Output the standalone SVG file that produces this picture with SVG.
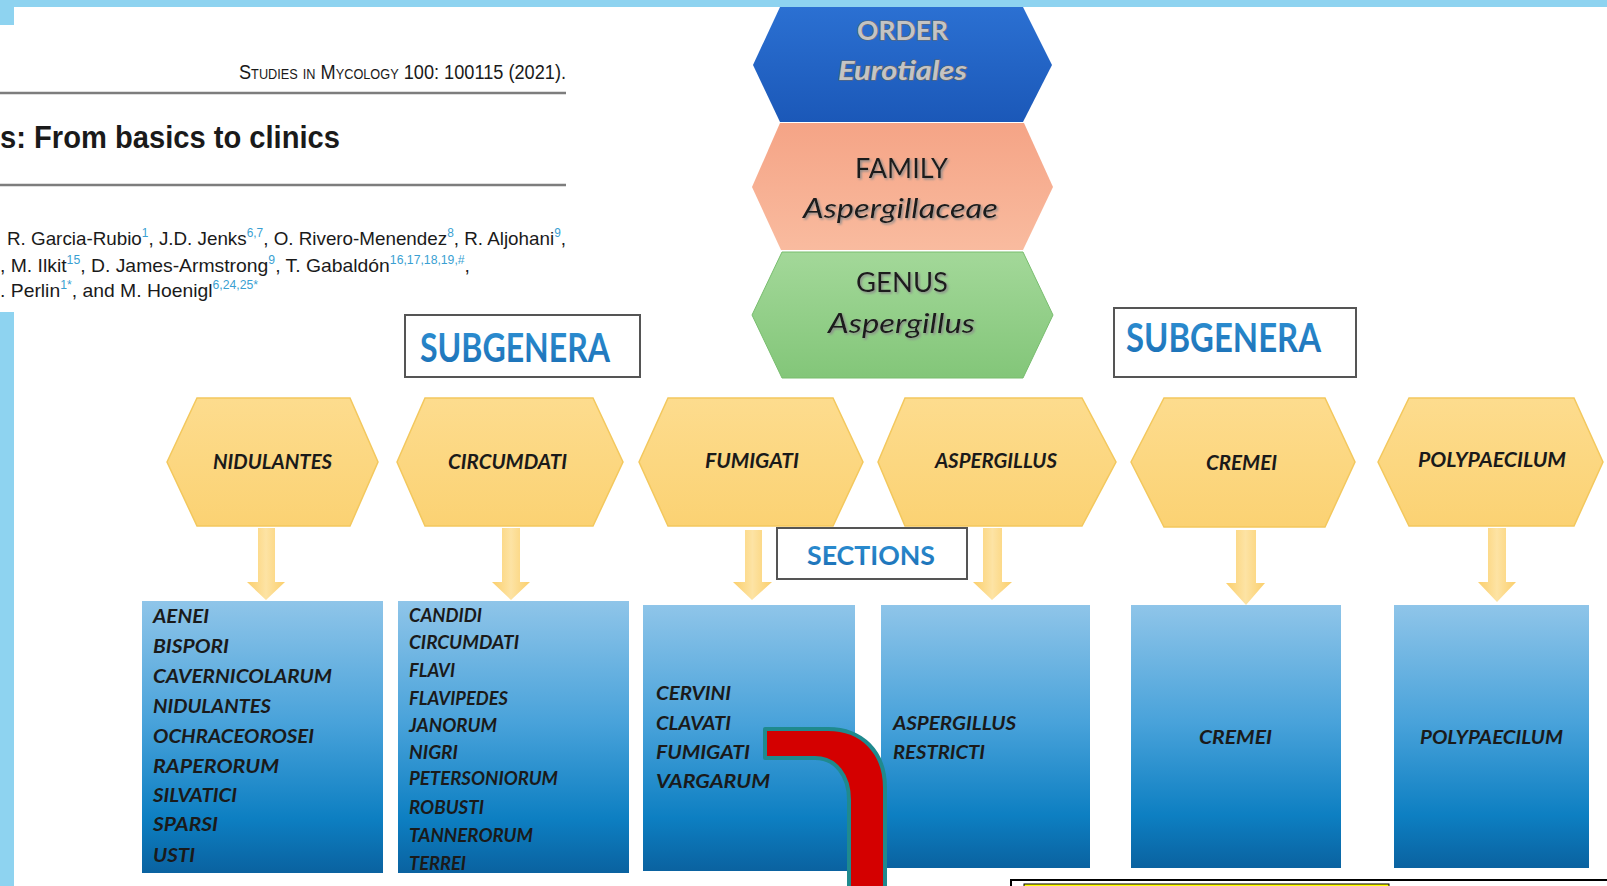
<svg xmlns="http://www.w3.org/2000/svg" width="1607" height="886" viewBox="0 0 1607 886">
<defs>
<style>
.hdr{font-family:"Liberation Sans",Arial,sans-serif;fill:#1a1a1a}
.sup{fill:#3a9fd2;font-size:12px}
.hexy{fill:url(#gy);stroke:#f3c85e;stroke-width:1.5}
.lbl{font-family:Lato,"Open Sans",sans-serif;font-weight:700;font-style:italic;fill:#1a1a1a}
.hl{font-size:20px}
.sl{font-size:18px}
.box{fill:url(#gb)}
.arrow{fill:url(#ga)}
.tag{fill:#fff;stroke:#555;stroke-width:2}
.tagt{font-family:Lato,"Open Sans",sans-serif;font-weight:700;fill:url(#gt)}
.top{font-family:Lato,"Open Sans",sans-serif;fill:#1a1a1a;font-size:27px;filter:url(#sh)}
.ord{font-family:Lato,"Open Sans",sans-serif;font-size:27px;font-weight:700;fill:#c4c4c4;stroke:#666;stroke-width:1.2;paint-order:stroke}
</style>
<linearGradient id="gy" x1="0" y1="0" x2="0" y2="1"><stop offset="0" stop-color="#fddc8e"/><stop offset="1" stop-color="#fbd273"/></linearGradient>
<linearGradient id="gb" x1="0" y1="0" x2="0" y2="1"><stop offset="0" stop-color="#8fc5e9"/><stop offset="0.45" stop-color="#48a2da"/><stop offset="0.8" stop-color="#0d7fc2"/><stop offset="1" stop-color="#0a62a0"/></linearGradient>
<linearGradient id="ga" x1="0" y1="0" x2="1" y2="0"><stop offset="0" stop-color="#fbcf6c"/><stop offset="0.5" stop-color="#fde3a4"/><stop offset="1" stop-color="#fbcf6c"/></linearGradient>
<linearGradient id="gt" x1="0" y1="0" x2="0" y2="1"><stop offset="0" stop-color="#2f93d6"/><stop offset="1" stop-color="#1a6db3"/></linearGradient>
<linearGradient id="go" x1="0" y1="0" x2="0" y2="1"><stop offset="0" stop-color="#2b70d2"/><stop offset="1" stop-color="#1b58b8"/></linearGradient>
<linearGradient id="gf" x1="0" y1="0" x2="0" y2="1"><stop offset="0" stop-color="#f5a486"/><stop offset="1" stop-color="#f9bb9f"/></linearGradient>
<linearGradient id="gg" x1="0" y1="0" x2="0" y2="1"><stop offset="0" stop-color="#a3d899"/><stop offset="1" stop-color="#83c679"/></linearGradient>
<filter id="sh" x="-10%" y="-30%" width="120%" height="160%"><feDropShadow dx="1.5" dy="1.5" stdDeviation="0.8" flood-color="#8a8a8a"/></filter>
<clipPath id="cb2"><rect x="398" y="601" width="231" height="272"/></clipPath>
</defs>

<rect width="1607" height="886" fill="#fff"/>
<g id="frame">
<rect x="0" y="0" width="1607" height="7" fill="#8ed3f0"/>
<rect x="0" y="0" width="14" height="25" fill="#8ed3f0"/>
<rect x="0" y="312" width="14" height="574" fill="#8ed3f0"/>
</g>

<g id="header">
<text class="hdr" x="239" y="79" font-size="20" style="font-variant:small-caps" textLength="327" lengthAdjust="spacingAndGlyphs">Studies in Mycology 100: 100115 (2021).</text>
<line x1="0" y1="93" x2="566" y2="93" stroke="#7d7d7d" stroke-width="2.5"/>
<text class="hdr" x="0" y="148" font-size="32" font-weight="700" textLength="340" lengthAdjust="spacingAndGlyphs">s: From basics to clinics</text>
<line x1="0" y1="185" x2="566" y2="185" stroke="#7d7d7d" stroke-width="2.5"/>
<text class="hdr" x="7" y="245" font-size="19" textLength="559" lengthAdjust="spacingAndGlyphs">R. Garcia-Rubio<tspan class="sup" dy="-8">1</tspan><tspan dy="8">, J.D. Jenks</tspan><tspan class="sup" dy="-8">6,7</tspan><tspan dy="8">, O. Rivero-Menendez</tspan><tspan class="sup" dy="-8">8</tspan><tspan dy="8">, R. Aljohani</tspan><tspan class="sup" dy="-8">9</tspan><tspan dy="8">,</tspan></text>
<text class="hdr" x="0" y="272" font-size="19" textLength="470" lengthAdjust="spacingAndGlyphs">, M. Ilkit<tspan class="sup" dy="-8">15</tspan><tspan dy="8">, D. James-Armstrong</tspan><tspan class="sup" dy="-8">9</tspan><tspan dy="8">, T. Gabaldón</tspan><tspan class="sup" dy="-8">16,17,18,19,#</tspan><tspan dy="8">,</tspan></text>
<text class="hdr" x="0" y="297" font-size="19" textLength="258" lengthAdjust="spacingAndGlyphs">. Perlin<tspan class="sup" dy="-8">1*</tspan><tspan dy="8">, and M. Hoenigl</tspan><tspan class="sup" dy="-8">6,24,25*</tspan></text>
</g>

<g id="order">
<polygon points="753,65 780,7 1023,7 1052,65 1023,122 780,122" fill="url(#go)"/>
<text class="ord" x="857" y="40" textLength="91" lengthAdjust="spacingAndGlyphs">ORDER</text>
<text class="ord" x="838" y="80" font-style="italic" textLength="129" lengthAdjust="spacingAndGlyphs">Eurotiales</text>
</g>
<g id="family">
<polygon points="752,187 780,123 1024,123 1053,187 1023,250 781,250" fill="url(#gf)"/>
<text class="top" x="855" y="178" textLength="93" lengthAdjust="spacingAndGlyphs">FAMILY</text>
<text class="top" x="803" y="218" font-style="italic" textLength="195" lengthAdjust="spacingAndGlyphs">Aspergillaceae</text>
</g>
<g id="genus">
<polygon points="752,315 782,252 1023,252 1053,315 1023,378 782,378" fill="url(#gg)" stroke="#78bd6e" stroke-width="1"/>
<text class="top" x="856" y="292" textLength="92" lengthAdjust="spacingAndGlyphs">GENUS</text>
<text class="top" x="828" y="333" font-style="italic" textLength="147" lengthAdjust="spacingAndGlyphs">Aspergillus</text>
</g>

<g id="subgenera-label-left">
<rect class="tag" x="405" y="315" width="235" height="62"/>
<text class="tagt" x="420" y="362" font-size="40" textLength="190" lengthAdjust="spacingAndGlyphs">SUBGENERA</text>
</g>
<g id="subgenera-label-right">
<rect class="tag" x="1114" y="308" width="242" height="69"/>
<text class="tagt" x="1126" y="352" font-size="40" textLength="195" lengthAdjust="spacingAndGlyphs">SUBGENERA</text>
</g>

<g id="sg-nidulantes">
<polygon class="hexy" points="167,462 197,398 350,398 378,462 350,526 197,526"/>
<text class="lbl hl" x="213" y="469" textLength="119" lengthAdjust="spacingAndGlyphs">NIDULANTES</text>
</g>
<g id="sg-circumdati">
<polygon class="hexy" points="397,462 425,398 593,398 623,462 593,526 425,526"/>
<text class="lbl hl" x="448" y="469" textLength="119" lengthAdjust="spacingAndGlyphs">CIRCUMDATI</text>
</g>
<g id="sg-fumigati">
<polygon class="hexy" points="639,462 668,398 833,398 863,462 833,526 668,526"/>
<text class="lbl hl" x="705" y="468" textLength="94" lengthAdjust="spacingAndGlyphs">FUMIGATI</text>
</g>
<g id="sg-aspergillus">
<polygon class="hexy" points="878,462 905,398 1082,398 1116,462 1082,526 905,526"/>
<text class="lbl hl" x="935" y="468" textLength="122" lengthAdjust="spacingAndGlyphs">ASPERGILLUS</text>
</g>
<g id="sg-cremei">
<polygon class="hexy" points="1131,462 1164,398 1325,398 1355,462 1325,527 1164,527"/>
<text class="lbl hl" x="1206" y="470" textLength="71" lengthAdjust="spacingAndGlyphs">CREMEI</text>
</g>
<g id="sg-polypaecilum">
<polygon class="hexy" points="1378,462 1409,398 1574,398 1603,462 1574,526 1409,526"/>
<text class="lbl hl" x="1418" y="467" textLength="148" lengthAdjust="spacingAndGlyphs">POLYPAECILUM</text>
</g>

<g id="sections-label">
<rect class="tag" x="777" y="528" width="190" height="51"/>
<text class="tagt" x="807" y="565" font-size="26" textLength="128" lengthAdjust="spacingAndGlyphs">SECTIONS</text>
</g>

<g id="connectors">
<path class="arrow" d="M258,528 H275 V582 H285 L266,600 L247,582 H258 Z"/>
<path class="arrow" d="M502,528 H520 V582 H530 L511,600 L492,582 H502 Z"/>
<path class="arrow" d="M745,530 H762 V582 H772 L752,600 L733,582 H745 Z"/>
<path class="arrow" d="M983,528 H1002 V582 H1012 L992,600 L973,582 H983 Z"/>
<path class="arrow" d="M1236,530 H1256 V583 H1265 L1246,605 L1226,583 H1236 Z"/>
<path class="arrow" d="M1488,528 H1506 V582 H1516 L1497,602 L1478,582 H1488 Z"/>
</g>

<g id="sec-nidulantes">
<rect class="box" x="142" y="601" width="241" height="272"/>
<g class="lbl sl">
<text x="153" y="623" textLength="56" lengthAdjust="spacingAndGlyphs">AENEI</text>
<text x="153" y="653" textLength="76" lengthAdjust="spacingAndGlyphs">BISPORI</text>
<text x="153" y="683" textLength="179" lengthAdjust="spacingAndGlyphs">CAVERNICOLARUM</text>
<text x="153" y="713" textLength="118" lengthAdjust="spacingAndGlyphs">NIDULANTES</text>
<text x="153" y="743" textLength="161" lengthAdjust="spacingAndGlyphs">OCHRACEOROSEI</text>
<text x="153" y="773" textLength="126" lengthAdjust="spacingAndGlyphs">RAPERORUM</text>
<text x="153" y="802" textLength="84" lengthAdjust="spacingAndGlyphs">SILVATICI</text>
<text x="153" y="831" textLength="65" lengthAdjust="spacingAndGlyphs">SPARSI</text>
<text x="153" y="862" textLength="42" lengthAdjust="spacingAndGlyphs">USTI</text>
</g>
</g>
<g id="sec-circumdati">
<rect class="box" x="398" y="601" width="231" height="272"/>
<g class="lbl sl" clip-path="url(#cb2)">
<text x="409" y="622" textLength="73" lengthAdjust="spacingAndGlyphs">CANDIDI</text>
<text x="409" y="649" textLength="110" lengthAdjust="spacingAndGlyphs">CIRCUMDATI</text>
<text x="409" y="677" textLength="46" lengthAdjust="spacingAndGlyphs">FLAVI</text>
<text x="409" y="705" textLength="99" lengthAdjust="spacingAndGlyphs">FLAVIPEDES</text>
<text x="409" y="732" textLength="88" lengthAdjust="spacingAndGlyphs">JANORUM</text>
<text x="409" y="759" textLength="49" lengthAdjust="spacingAndGlyphs">NIGRI</text>
<text x="409" y="785" textLength="149" lengthAdjust="spacingAndGlyphs">PETERSONIORUM</text>
<text x="409" y="814" textLength="75" lengthAdjust="spacingAndGlyphs">ROBUSTI</text>
<text x="409" y="842" textLength="124" lengthAdjust="spacingAndGlyphs">TANNERORUM</text>
<text x="409" y="870" textLength="57" lengthAdjust="spacingAndGlyphs">TERREI</text>
</g>
</g>
<g id="sec-fumigati">
<rect class="box" x="643" y="605" width="212" height="266"/>
<g class="lbl sl">
<text x="656" y="700" textLength="75" lengthAdjust="spacingAndGlyphs">CERVINI</text>
<text x="656" y="730" textLength="75" lengthAdjust="spacingAndGlyphs">CLAVATI</text>
<text x="656" y="759" textLength="94" lengthAdjust="spacingAndGlyphs">FUMIGATI</text>
<text x="656" y="788" textLength="114" lengthAdjust="spacingAndGlyphs">VARGARUM</text>
</g>
</g>
<g id="sec-aspergillus">
<rect class="box" x="881" y="605" width="209" height="263"/>
<g class="lbl sl">
<text x="893" y="730" textLength="123" lengthAdjust="spacingAndGlyphs">ASPERGILLUS</text>
<text x="893" y="759" textLength="92" lengthAdjust="spacingAndGlyphs">RESTRICTI</text>
</g>
</g>
<g id="sec-cremei">
<rect class="box" x="1131" y="605" width="210" height="263"/>
<text class="lbl sl" x="1199" y="744" textLength="73" lengthAdjust="spacingAndGlyphs">CREMEI</text>
</g>
<g id="sec-polypaecilum">
<rect class="box" x="1394" y="605" width="195" height="263"/>
<text class="lbl sl" x="1420" y="744" textLength="143" lengthAdjust="spacingAndGlyphs">POLYPAECILUM</text>
</g>

<g id="red-arrow">
<path d="M765,729 H828 C862,729 885,752 885,788 V890 H849 V800 C849,776 836,758 815,758 H765 Z" fill="#d40000" stroke="#1f8a8e" stroke-width="4" stroke-linejoin="round"/>
</g>

<g id="yellow-box">
<rect x="1011" y="880" width="600" height="20" fill="#fff" stroke="#000" stroke-width="2"/>
<rect x="1024" y="884" width="365" height="10" fill="#ffff00" stroke="#000" stroke-width="1"/>
</g>
</svg>
